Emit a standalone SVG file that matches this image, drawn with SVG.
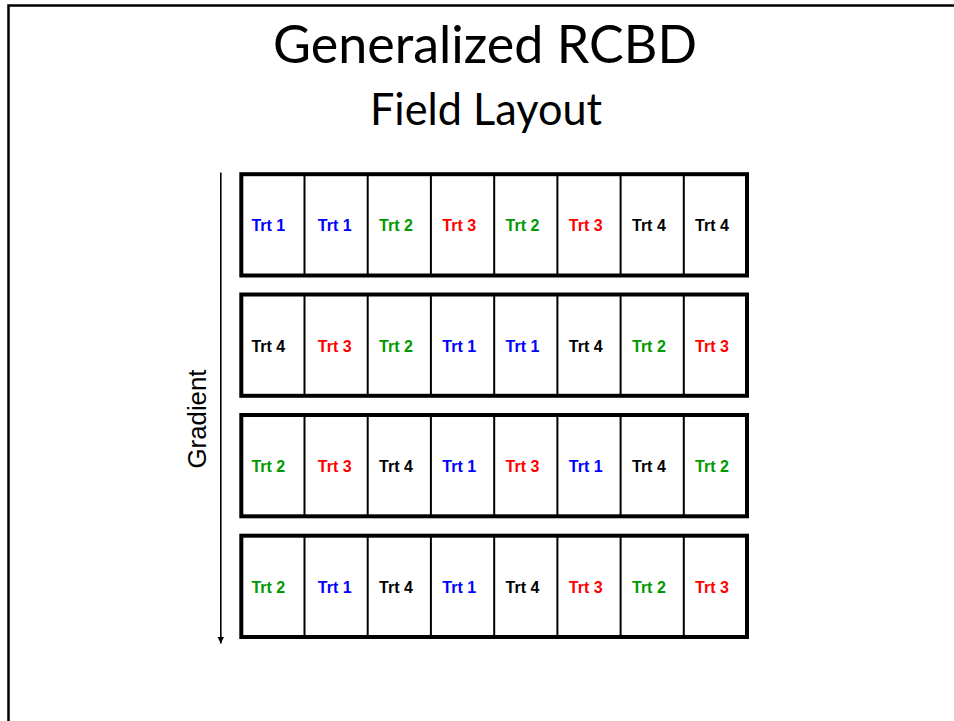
<svg xmlns="http://www.w3.org/2000/svg" width="954" height="721" viewBox="0 0 954 721">
<defs>
<style>
.title{font-family:Lato,"Open Sans","Liberation Sans",sans-serif;fill:#000;text-anchor:middle}
.blk{fill:#fff;stroke:#000;stroke-width:4}
.div{stroke:#000;stroke-width:2}
.t{font-family:"Liberation Sans",Arial,sans-serif;font-weight:bold;font-size:16px;text-anchor:middle}
.c1{fill:#0000ff}.c2{fill:#009900}.c3{fill:#ff0000}.c4{fill:#000}
</style>
<marker id="ah" viewBox="0 0 10 10" refX="10" refY="5" markerWidth="7" markerHeight="7" markerUnits="userSpaceOnUse" orient="auto"><path d="M0,0 L10,5 L0,10 z" fill="#000"/></marker>
</defs>
<rect width="954" height="721" fill="#fff"/>
<path d="M8.5,721 V5.5 H954" fill="none" stroke="#000" stroke-width="2.5"/>
<g id="title">
<text class="title" x="485" y="63" font-size="53" textLength="424" lengthAdjust="spacingAndGlyphs">Generalized RCBD</text>
<text class="title" x="486" y="125" font-size="44" textLength="232" lengthAdjust="spacingAndGlyphs">Field Layout</text>
</g>
<g id="connectors">
<line x1="220.8" y1="172.5" x2="220.8" y2="643.5" stroke="#000" stroke-width="1.6" marker-end="url(#ah)"/>
</g>
<g id="gradient-label">
<text x="205.5" y="419" transform="rotate(-90 205.5 419)" font-family="'Liberation Sans',Arial,sans-serif" font-size="25" text-anchor="middle" textLength="99" lengthAdjust="spacingAndGlyphs">Gradient</text>
</g>
<g id="block1">
<rect class="blk" x="241.3" y="174.2" width="505.7" height="101.3"/>
<path class="div" d="M304.5,174.2V275.5M367.7,174.2V275.5M430.9,174.2V275.5M494.2,174.2V275.5M557.4,174.2V275.5M620.6,174.2V275.5M683.8,174.2V275.5"/>
<text class="t c1" x="268.3" y="231">Trt 1</text>
<text class="t c1" x="334.7" y="231">Trt 1</text>
<text class="t c2" x="396" y="231">Trt 2</text>
<text class="t c3" x="459.2" y="231">Trt 3</text>
<text class="t c2" x="522.5" y="231">Trt 2</text>
<text class="t c3" x="585.7" y="231">Trt 3</text>
<text class="t c4" x="648.9" y="231">Trt 4</text>
<text class="t c4" x="712" y="231">Trt 4</text>
</g>
<g id="block2">
<rect class="blk" x="241.3" y="294.5" width="505.7" height="101.3"/>
<path class="div" d="M304.5,294.5V395.8M367.7,294.5V395.8M430.9,294.5V395.8M494.2,294.5V395.8M557.4,294.5V395.8M620.6,294.5V395.8M683.8,294.5V395.8"/>
<text class="t c4" x="268.3" y="351.6">Trt 4</text>
<text class="t c3" x="334.7" y="351.6">Trt 3</text>
<text class="t c2" x="396" y="351.6">Trt 2</text>
<text class="t c1" x="459.2" y="351.6">Trt 1</text>
<text class="t c1" x="522.5" y="351.6">Trt 1</text>
<text class="t c4" x="585.7" y="351.6">Trt 4</text>
<text class="t c2" x="648.9" y="351.6">Trt 2</text>
<text class="t c3" x="712" y="351.6">Trt 3</text>
</g>
<g id="block3">
<rect class="blk" x="241.3" y="415" width="505.7" height="101.3"/>
<path class="div" d="M304.5,415V516.3M367.7,415V516.3M430.9,415V516.3M494.2,415V516.3M557.4,415V516.3M620.6,415V516.3M683.8,415V516.3"/>
<text class="t c2" x="268.3" y="472.1">Trt 2</text>
<text class="t c3" x="334.7" y="472.1">Trt 3</text>
<text class="t c4" x="396" y="472.1">Trt 4</text>
<text class="t c1" x="459.2" y="472.1">Trt 1</text>
<text class="t c3" x="522.5" y="472.1">Trt 3</text>
<text class="t c1" x="585.7" y="472.1">Trt 1</text>
<text class="t c4" x="648.9" y="472.1">Trt 4</text>
<text class="t c2" x="712" y="472.1">Trt 2</text>
</g>
<g id="block4">
<rect class="blk" x="241.3" y="535.7" width="505.7" height="101.3"/>
<path class="div" d="M304.5,535.7V637M367.7,535.7V637M430.9,535.7V637M494.2,535.7V637M557.4,535.7V637M620.6,535.7V637M683.8,535.7V637"/>
<text class="t c2" x="268.3" y="592.7">Trt 2</text>
<text class="t c1" x="334.7" y="592.7">Trt 1</text>
<text class="t c4" x="396" y="592.7">Trt 4</text>
<text class="t c1" x="459.2" y="592.7">Trt 1</text>
<text class="t c4" x="522.5" y="592.7">Trt 4</text>
<text class="t c3" x="585.7" y="592.7">Trt 3</text>
<text class="t c2" x="648.9" y="592.7">Trt 2</text>
<text class="t c3" x="712" y="592.7">Trt 3</text>
</g>
</svg>
